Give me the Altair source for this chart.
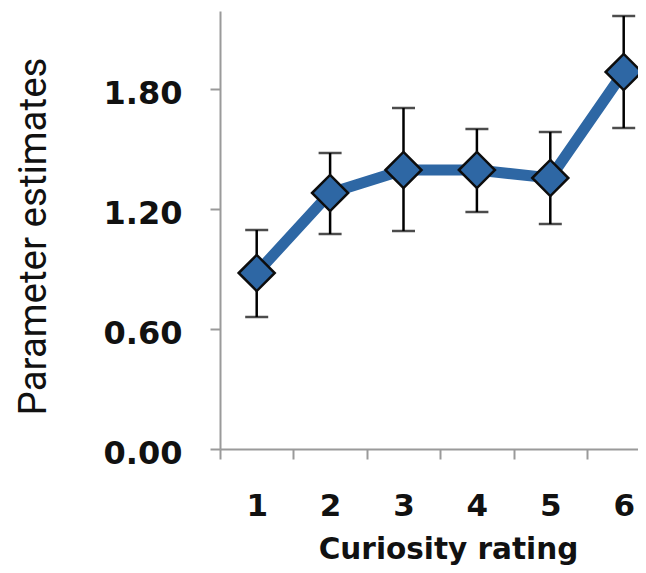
import altair as alt
import pandas as pd

ratings = [1, 2, 3, 4, 5, 6]
estimates = [0.88, 1.28, 1.395, 1.395, 1.355, 1.885]
upper = [1.095, 1.48, 1.705, 1.60, 1.585, 2.165]
lower = [0.66, 1.075, 1.09, 1.185, 1.125, 1.605]
y_ticks = [0.0, 0.6, 1.2, 1.8]
x_boundaries = [0.5, 1.5, 2.5, 3.5, 4.5, 5.5]

df = pd.DataFrame({"rating": ratings, "est": estimates, "hi": upper, "lo": lower})

W, H = 418, 438
band = 73.4
x_max = 0.5 + W / band

xscale = alt.Scale(domain=[0.5, x_max], nice=False, zero=False)
yscale = alt.Scale(domain=[0, 2.19], nice=False)

xaxis = alt.Axis(
    values=x_boundaries,
    labelExpr="format(datum.value + 0.5, 'd')",
    labelOffset=band / 2,
    labelFlush=False,
    labelOverlap=False,
    labelFont="DejaVu Sans",
    labelFontWeight="bold",
    labelFontSize=31,
    labelColor="#111111",
    labelBaseline="alphabetic",
    labelPadding=56,
    tickSize=10,
    tickColor="#9a9a9a",
    tickWidth=2,
    domainColor="#9a9a9a",
    domainWidth=2,
    grid=False,
    title="Curiosity rating",
    titleFont="DejaVu Sans",
    titleFontWeight="bold",
    titleFontSize=29.5,
    titleColor="#111111",
    titleBaseline="alphabetic",
    titleAlign="center",
    titleAnchor="start",
    titleX=228,
    titleY=109,
)

yaxis = alt.Axis(
    values=y_ticks,
    format=".2f",
    labelFont="DejaVu Sans",
    labelFontWeight="bold",
    labelFontSize=32,
    labelColor="#111111",
    labelPadding=28,
    labelOffset=4,
    tickSize=10,
    tickColor="#9a9a9a",
    tickWidth=2,
    domainColor="#9a9a9a",
    domainWidth=2,
    grid=False,
    title="Parameter estimates",
    titleFont="Roboto",
    titleFontWeight="normal",
    titleFontSize=38.5,
    titleColor="#111111",
    titleAngle=270,
    titleBaseline="alphabetic",
    titleAlign="center",
    titleAnchor="start",
    titleX=-175,
    titleY=225,
)

base = alt.Chart(df)

bars = base.mark_rule(color="black", strokeWidth=2.5).encode(
    x=alt.X("rating:Q", scale=xscale, axis=xaxis),
    y=alt.Y("lo:Q", scale=yscale, axis=yaxis),
    y2="hi:Q",
)
cap_hi = base.mark_tick(orient="horizontal", size=23, thickness=2.5, color="black").encode(
    x=alt.X("rating:Q", scale=xscale), y=alt.Y("hi:Q", scale=yscale)
)
cap_lo = base.mark_tick(orient="horizontal", size=23, thickness=2.5, color="black").encode(
    x=alt.X("rating:Q", scale=xscale), y=alt.Y("lo:Q", scale=yscale)
)
line = base.mark_line(color="#2e67a4", strokeWidth=11).encode(
    x=alt.X("rating:Q", scale=xscale), y=alt.Y("est:Q", scale=yscale)
)
pts = base.mark_point(
    shape="diamond", size=1300, filled=True, fill="#2e67a4", stroke="#0d0d0d",
    strokeWidth=2.5, opacity=1
).encode(x=alt.X("rating:Q", scale=xscale), y=alt.Y("est:Q", scale=yscale))

chart = (
    alt.layer(bars, cap_hi, cap_lo, line, pts)
    .properties(
        width=W,
        height=H,
        autosize=alt.AutoSizeParams(type="none"),
        padding={"left": 212, "top": 3, "right": 0, "bottom": 116},
        background="white",
    )
    .configure_view(stroke=None)
)

chart.save("out.html", embed_options={"renderer": "svg", "actions": False})
